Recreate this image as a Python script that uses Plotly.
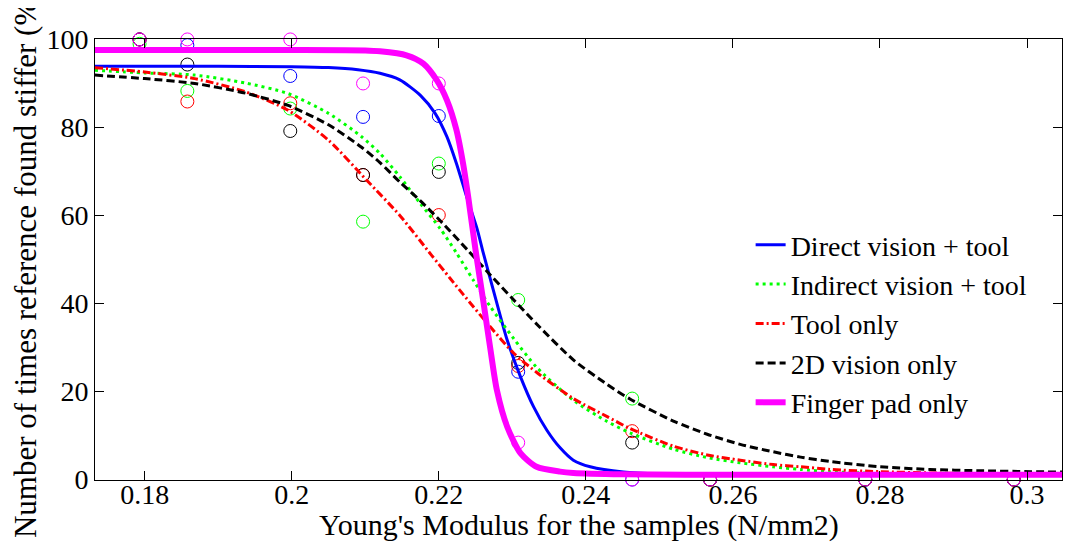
import plotly.graph_objects as go

# ---- observed points ----
pts_x = [0.1793, 0.1858, 0.1998, 0.2097, 0.2200, 0.2308, 0.2463, 0.2569, 0.2780, 0.2982]
direct_pts = [100, 98.7, 91.7, 82.4, 82.6, 24.5, 0, 0, 0, 0]
indirect_pts = [99.0, 88.3, 84.3, 58.6, 71.8, 40.8, 18.4, 0, 0, 0]
tool_pts = [100, 85.9, 85.5, 69.2, 60.1, 25.8, 11.0, 0, 0, 0]
vision2d_pts = [100, 94.3, 79.2, 69.2, 69.9, 26.5, 8.4, 0, 0, 0]
finger_pts = [100, 100, 100, 90.0, 90.0, 8.4, 0, 0, 0, 0]

# ---- fitted curves ----
direct_x = [0.1732, 0.190, 0.200, 0.205, 0.209, 0.212, 0.2147, 0.2175, 0.2195, 0.2211, 0.2224, 0.2238,
            0.2252, 0.2260, 0.2277, 0.2293, 0.2311, 0.2329, 0.2347, 0.2365, 0.2383, 0.2406, 0.2451,
            0.250, 0.260, 0.280, 0.3048]
direct_y = [93.9, 93.9, 93.8, 93.6, 93.1, 92.3, 90.8, 87.3, 83.2, 77.9, 71.8, 64.2,
            57.0, 51.8, 41.3, 31.7, 23.4, 16.5, 11.2, 7.2, 4.4, 2.9, 1.7,
            1.3, 1.2, 1.2, 1.2]

indirect_x = [0.1732, 0.1800, 0.1868, 0.1937, 0.1995, 0.2050, 0.2095, 0.2120, 0.2147, 0.2175, 0.2202,
              0.2224, 0.2247, 0.2270, 0.2302, 0.2333, 0.2383, 0.2429, 0.2460, 0.2519, 0.2565, 0.2610,
              0.2655, 0.2692, 0.2732, 0.2800, 0.2900, 0.3048]
indirect_y = [93.0, 92.4, 91.9, 90.1, 87.7, 83.2, 77.9, 74.1, 68.8, 62.7, 57.0,
              51.5, 45.3, 39.3, 32.0, 25.5, 18.0, 13.2, 10.6, 6.9, 5.0, 3.8,
              2.9, 2.3, 1.8, 1.4, 1.3, 1.2]

tool_x = [0.1732, 0.1800, 0.1868, 0.1937, 0.1995, 0.2050, 0.2102, 0.2147, 0.2190, 0.2215, 0.2234,
          0.2270, 0.2302, 0.2335, 0.2383, 0.2429, 0.2460, 0.2519, 0.2565, 0.2610, 0.2655, 0.2692,
          0.2732, 0.2800, 0.2870, 0.2950, 0.3048]
tool_y = [93.6, 92.6, 91.1, 88.1, 83.9, 77.1, 68.0, 60.0, 51.0, 45.8, 41.9,
          34.7, 28.7, 24.1, 18.4, 14.3, 11.6, 7.6, 5.6, 4.4, 3.4, 2.9,
          2.3, 1.8, 1.5, 1.3, 1.2]

vision2d_x = [0.1732, 0.1800, 0.1868, 0.1937, 0.1995, 0.2050, 0.2095, 0.2120, 0.2147, 0.2175, 0.2202,
              0.2240, 0.2270, 0.2302, 0.2335, 0.2383, 0.2429, 0.2460, 0.2519, 0.2565, 0.2610, 0.2655,
              0.2692, 0.2732, 0.2800, 0.2868, 0.2936, 0.3005, 0.3048]
vision2d_y = [91.9, 91.1, 90.0, 87.8, 85.0, 80.6, 75.5, 72.0, 67.6, 63.3, 58.8,
              52.0, 46.5, 40.8, 35.0, 27.2, 21.6, 18.3, 13.3, 10.3, 8.0, 6.3,
              5.1, 4.1, 2.9, 2.3, 2.0, 1.8, 1.7]

finger_x = [0.1732, 0.200, 0.210, 0.2120, 0.2156, 0.2179, 0.2197, 0.2211, 0.2224, 0.2233, 0.2240,
            0.2250, 0.2261, 0.2270, 0.2279, 0.2293, 0.2311, 0.2333, 0.2365, 0.2383, 0.245, 0.260, 0.3048]
finger_y = [97.6, 97.6, 97.5, 97.3, 96.4, 94.5, 90.8, 86.2, 79.4, 71.8, 64.2,
            52.1, 40.0, 29.8, 20.3, 12.0, 6.0, 2.9, 1.8, 1.5, 1.2, 1.1, 1.1]

x_ticks = [0.18, 0.2, 0.22, 0.24, 0.26, 0.28, 0.3]
x_tick_text = ["0.18", "0.2", "0.22", "0.24", "0.26", "0.28", "0.3"]
y_ticks = [0, 20, 40, 60, 80, 100]

x_title = "Young's Modulus for the samples (N/mm2)"
y_title = "Number of times reference found stiffer (%)"

FONT = "Liberation Serif"

series = [
    ("Direct vision + tool", direct_x, direct_y, direct_pts, "#0000ff", 3, "solid"),
    ("Indirect vision + tool", indirect_x, indirect_y, indirect_pts, "#00ff00", 3, "3px,4px"),
    ("Tool only", tool_x, tool_y, tool_pts, "#ff0000", 3, "8px,3px,2px,3px"),
    ("2D vision only", vision2d_x, vision2d_y, vision2d_pts, "#000000", 3, "8px,4px"),
    ("Finger pad only", finger_x, finger_y, finger_pts, "#ff00ff", 6, "solid"),
]

fig = go.Figure()
for name, cx, cy, pts, col, w, dash in series:
    fig.add_trace(go.Scatter(
        x=pts_x, y=pts, mode="markers", showlegend=False, cliponaxis=False,
        marker=dict(symbol="circle-open", size=13, color=col, line=dict(width=1, color=col)),
        hoverinfo="skip"))
for name, cx, cy, pts, col, w, dash in series:
    fig.add_trace(go.Scatter(
        x=cx, y=cy, mode="lines", name=name,
        line=dict(color=col, width=w, dash=dash, shape="spline", smoothing=0.7)))

axis_common = dict(
    showline=True, linecolor="black", linewidth=1, mirror="allticks",
    ticks="inside", ticklen=9, tickcolor="black", showgrid=False, zeroline=False,
    automargin=False,
    tickfont=dict(family=FONT, size=28, color="black"),
)

# the page body has an 8px margin, so the figure is sized to fill the rest
fig.update_layout(
    width=1066, height=540,
    margin=dict(l=87, r=12, t=31, b=68),
    paper_bgcolor="white", plot_bgcolor="white",
    font=dict(family=FONT, size=28, color="black"),
    xaxis=dict(range=[0.17324, 0.30476], tickvals=x_ticks, ticktext=x_tick_text,
               ticklabelstandoff=-11, **axis_common),
    yaxis=dict(range=[-0.1, 100.1], tickvals=y_ticks, ticklabelstandoff=0, **axis_common),
    legend=dict(x=0.678, y=0.5896, xanchor="left", yanchor="top", bgcolor="rgba(0,0,0,0)",
                borderwidth=0, font=dict(family=FONT, size=28, color="black"),
                itemwidth=30, tracegroupgap=0),
    showlegend=True,
    annotations=[
        dict(text=x_title, xref="paper", yref="paper", x=0.5, y=-0.102,
             xanchor="center", yanchor="middle", showarrow=False,
             font=dict(family=FONT, size=30, color="black")),
        dict(text=y_title, xref="paper", yref="paper", x=-0.0724, y=0.492,
             xanchor="center", yanchor="middle", textangle=-90, showarrow=False,
             font=dict(family=FONT, size=31, color="black")),
    ],
)

fig.write_html("out.html")
